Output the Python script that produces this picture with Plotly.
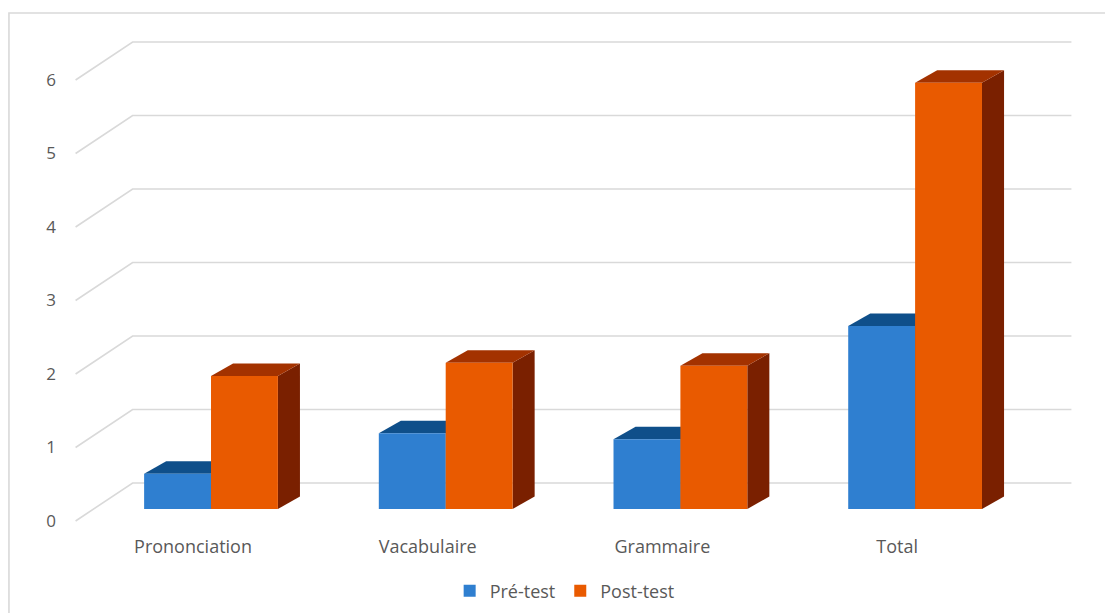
import plotly.graph_objects as go

# ---- data ----
categories = ["Prononciation", "Vacabulaire", "Grammaire", "Total"]
pre_test = [0.48, 1.03, 0.95, 2.49]
post_test = [1.81, 1.99, 1.95, 5.80]
y_ticks = [0, 1, 2, 3, 4, 5, 6]

# ---- style / geometry ----
BAR_W = 0.285
BDX, BDY = 0.094, 0.170          # bar depth (oblique projection) in data units
FX, FY = -0.077, -0.163          # front edge of floor relative to bar front plane
BX, BY = 0.166, 0.354            # back wall relative to bar front plane
GRID = "#d9d9d9"
TXT = "#595959"
FONT = "Open Sans"

series = [
    ("Pré-test", pre_test, -BAR_W, "#2f7fd0", "#0f4f8a", "#0c3f70"),
    ("Post-test", post_test, 0.0, "#e95a00", "#a33200", "#7a2000"),
]

xpos = list(range(len(categories)))

fig = go.Figure()
shapes = []

# back wall / side wall gridlines
left, right = -0.5, len(categories) - 0.5
for k in y_ticks:
    path = (f"M {left+FX},{k+FY} L {left+BX},{k+BY} L {right+BX},{k+BY}")
    shapes.append(dict(type="path", path=path, xref="x", yref="y", layer="below",
                       line=dict(color=GRID, width=1.6)))

for name, vals, off, c_front, c_top, c_side in series:
    fig.add_trace(go.Bar(x=xpos, y=vals, name=name, width=BAR_W, offset=off,
                         marker=dict(color=c_front, line=dict(width=0))))
    for x, v in zip(xpos, vals):
        xl, xr = x + off, x + off + BAR_W
        side = (f"M {xr},0 L {xr+BDX},{BDY} L {xr+BDX},{v+BDY} L {xr},{v} Z")
        top = (f"M {xl},{v} L {xl+BDX},{v+BDY} L {xr+BDX},{v+BDY} L {xr},{v} Z")
        shapes.append(dict(type="path", path=side, xref="x", yref="y", layer="below",
                           fillcolor=c_side, line=dict(width=0)))
        shapes.append(dict(type="path", path=top, xref="x", yref="y", layer="below",
                           fillcolor=c_top, line=dict(width=0)))

# outer chart border
shapes.append(dict(type="rect", xref="paper", yref="paper",
                   x0=-0.0498, y0=-0.5, x1=1.2, y1=1.034,
                   line=dict(color=GRID, width=1.6), fillcolor="rgba(0,0,0,0)"))

fig.update_layout(
    width=1105, height=613, autosize=False,
    margin=dict(l=60, r=20, t=30, b=83),
    paper_bgcolor="white", plot_bgcolor="white",
    barmode="overlay",
    shapes=shapes,
    font=dict(family=FONT, size=18, color=TXT),
    showlegend=True,
    legend=dict(orientation="h", xref="container", yref="container",
                x=0.511, xanchor="center", y=0.036, yanchor="middle",
                font=dict(size=18, color=TXT), itemwidth=30),
    xaxis=dict(range=[-0.6434, 3.7239], tickvals=xpos, ticktext=categories,
               showgrid=False, zeroline=False, showline=False, ticks="",
               ticklabelshift=-18, ticklabelstandoff=4,
               tickfont=dict(size=18, color=TXT)),
    yaxis=dict(range=[-0.2857, 6.517], tickvals=y_ticks,
               showgrid=False, zeroline=False, showline=False, ticks="",
               ticklabelshift=12, ticklabelstandoff=3,
               tickfont=dict(size=17, color=TXT)),
)

fig.write_html("out.html")
